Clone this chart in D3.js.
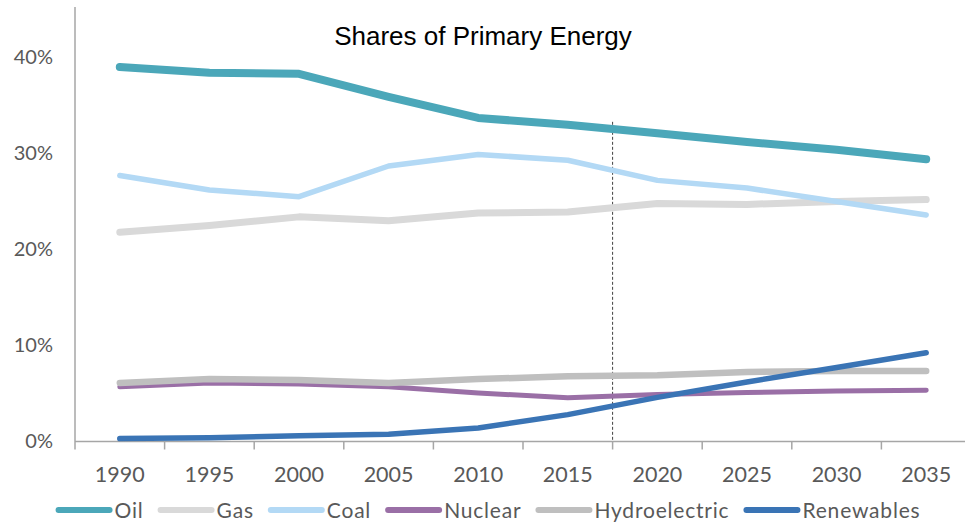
<!DOCTYPE html>
<html>
<head>
    <meta charset="utf-8">
    <title>Shares of Primary Energy</title>
    <script src="https://d3js.org/d3.v7.min.js"></script>
    <style>
        body {
            margin: 0;
            background: #ffffff;
        }

        .title {
            font-family: "Liberation Sans", Arial, sans-serif;
            font-size: 26px;
            fill: #000000;
        }

        .axis text, .legend text {
            font-family: Lato, "Open Sans", sans-serif;
            fill: #595959;
        }

        .legend text {
            letter-spacing: 0.8px;
        }

        .series {
            fill: none;
            stroke-linecap: round;
            stroke-linejoin: round;
        }
    </style>
</head>
<body>
    <div id="chart"></div>

    <script>
        // Years on the x axis
        const years = ["1990", "1995", "2000", "2005", "2010", "2015", "2020", "2025", "2030", "2035"];

        // Share of primary energy, percent
        const oil         = [39.0, 38.4, 38.3, 35.9, 33.7, 33.0, 32.1, 31.2, 30.4, 29.4];
        const gas         = [21.8, 22.5, 23.4, 23.0, 23.8, 23.9, 24.8, 24.7, 25.0, 25.2];
        const coal        = [27.7, 26.2, 25.5, 28.7, 29.9, 29.3, 27.2, 26.4, 25.0, 23.6];
        const nuclear     = [5.7, 6.1, 6.0, 5.7, 5.05, 4.55, 4.9, 5.1, 5.25, 5.35];
        const hydro       = [6.1, 6.5, 6.4, 6.1, 6.5, 6.8, 6.9, 7.25, 7.35, 7.35];
        const renewables  = [0.3, 0.4, 0.6, 0.75, 1.4, 2.8, 4.6, 6.2, 7.7, 9.25];

        const seriesNames = ["Oil", "Gas", "Coal", "Nuclear", "Hydroelectric", "Renewables"];
        const seriesValues = [oil, gas, coal, nuclear, hydro, renewables];
        const seriesColors = ["#4ba7b9", "#d9d9d9", "#b3d9f5", "#9a6fa6", "#bfbfbf", "#3a74b5"];
        const seriesWidths = [8, 7, 5.5, 5, 6.5, 5.5];

        const yTicks = [0, 10, 20, 30, 40];

        // projection starts after 2015
        const projectionStart = "2020";
        const projectionTop = 33.3;

        const width = 965, height = 522;
        const plot = {left: 75, right: 971, top: 9.5, bottom: 441.5};

        const svg = d3.select("#chart")
            .append("svg")
            .attr("width", width)
            .attr("height", height);

        const x = d3.scaleBand()
            .domain(years)
            .range([plot.left, plot.right]);

        const y = d3.scaleLinear()
            .domain([0, 45])
            .range([plot.bottom, plot.top]);

        // Title
        svg.append("text")
            .attr("class", "title")
            .attr("x", 483)
            .attr("y", 45)
            .attr("text-anchor", "middle")
            .text("Shares of Primary Energy");

        // Y axis: line plus labels, no ticks
        const yAxis = svg.append("g")
            .attr("class", "axis")
            .attr("transform", `translate(${plot.left},0)`)
            .call(d3.axisLeft(y).tickValues(yTicks).tickSize(0).tickPadding(22).tickFormat(d => d + "%"));
        yAxis.select(".domain").remove();
        yAxis.selectAll("text").style("font-size", "20px");
        yAxis.append("line")
            .attr("x1", 0).attr("x2", 0)
            .attr("y1", 7).attr("y2", plot.bottom + 8)
            .attr("stroke", "#a6a6a6")
            .attr("stroke-width", 1.5);

        // X axis: ticks sit between the bands
        const xAxis = svg.append("g")
            .attr("class", "axis")
            .attr("transform", `translate(0,${plot.bottom})`);
        xAxis.append("line")
            .attr("x1", plot.left).attr("x2", width)
            .attr("stroke", "#a6a6a6")
            .attr("stroke-width", 1.5);
        xAxis.selectAll(".tickmark")
            .data(years.slice(1))
            .enter()
            .append("line")
            .attr("class", "tickmark")
            .attr("x1", d => x(d)).attr("x2", d => x(d))
            .attr("y1", 0).attr("y2", 8)
            .attr("stroke", "#a6a6a6")
            .attr("stroke-width", 1.5);
        xAxis.selectAll(".label")
            .data(years)
            .enter()
            .append("text")
            .attr("class", "label")
            .attr("x", d => x(d) + x.bandwidth() / 2)
            .attr("y", 40.5)
            .attr("text-anchor", "middle")
            .style("font-size", "21.5px")
            .text(d => d);

        // Dashed line marking the start of the projection
        svg.append("line")
            .attr("x1", x(projectionStart)).attr("x2", x(projectionStart))
            .attr("y1", y(projectionTop)).attr("y2", plot.bottom)
            .attr("stroke", "#404040")
            .attr("stroke-width", 1)
            .attr("stroke-dasharray", "3,2");

        // Lines, drawn in legend order
        const line = d3.line()
            .x((d, i) => x(years[i]) + x.bandwidth() / 2)
            .y(d => y(d));

        svg.selectAll(".series")
            .data(seriesValues)
            .enter()
            .append("path")
            .attr("class", "series")
            .attr("d", d => line(d))
            .attr("stroke", (d, i) => seriesColors[i])
            .attr("stroke-width", (d, i) => seriesWidths[i]);

        // Legend along the bottom
        const legend = svg.append("g").attr("class", "legend");
        const swatch = 57, gap = 2, spacing = 14;
        let cx = 0;
        seriesNames.forEach((name, i) => {
            const item = legend.append("g").attr("transform", `translate(${cx},0)`);
            item.append("line")
                .attr("x1", 3).attr("x2", swatch - 3)
                .attr("y1", 0).attr("y2", 0)
                .attr("stroke", seriesColors[i])
                .attr("stroke-width", 6)
                .attr("stroke-linecap", "round");
            const t = item.append("text")
                .attr("x", swatch + gap)
                .attr("y", 8)
                .style("font-size", "21px")
                .text(name);
            cx += swatch + gap + t.node().getComputedTextLength() + spacing;
        });
        const legendWidth = cx - spacing;
        legend.attr("transform", `translate(${488 - legendWidth / 2},510)`);
    </script>
</body>
</html>
